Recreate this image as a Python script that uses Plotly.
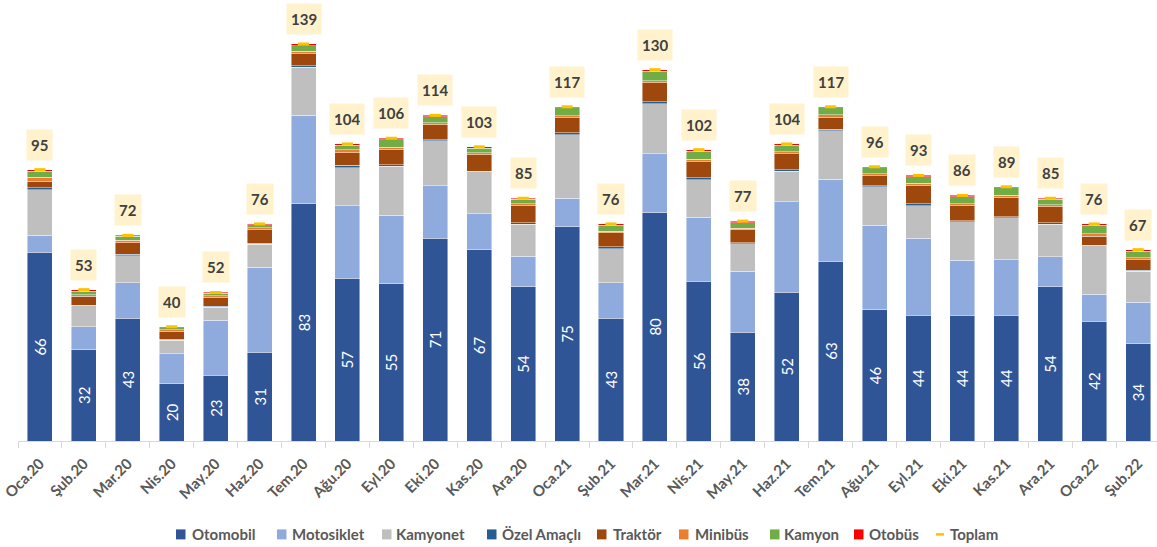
import plotly.graph_objects as go

months = ["Oca.20", "Şub.20", "Mar.20", "Nis.20", "May.20", "Haz.20", "Tem.20", "Ağu.20",
          "Eyl.20", "Eki.20", "Kas.20", "Ara.20", "Oca.21", "Şub.21", "Mar.21", "Nis.21",
          "May.21", "Haz.21", "Tem.21", "Ağu.21", "Eyl.21", "Eki.21", "Kas.21", "Ara.21",
          "Oca.22", "Şub.22"]

otomobil = [66, 32, 43, 20, 23, 31, 83, 57, 55, 71, 67, 54, 75, 43, 80, 56, 38, 52, 63, 46, 44, 44, 44, 54, 42, 34]
motosiklet = [6, 8, 12.4, 10.5, 19.2, 29.9, 31, 25.3, 24, 18.4, 12.5, 10.6, 10, 12.4, 20.5, 22.3, 21.5, 31.7, 28.7, 29.5, 27, 19.3, 19.5, 10.5, 9.3, 14.6]
kamyonet = [16, 7.3, 9.5, 4.8, 4.7, 8, 16.8, 13.4, 17.2, 15.8, 14.7, 11.3, 22.3, 11.9, 17.6, 13.2, 9.6, 10.8, 17, 13.6, 11.4, 13.4, 14.6, 11.4, 17.0, 10.9]
ozel_amacli = [0.7, 0.3, 0.4, 0.3, 0.3, 0.4, 0.5, 0.9, 0.5, 0.3, 0.3, 0.5, 0.7, 0.7, 0.7, 0.6, 0.3, 0.5, 0.5, 0.3, 0.7, 0.4, 0.4, 0.6, 0.3, 0.3]
traktor = [2.2, 3.0, 4.1, 2.8, 3.2, 4.6, 4.3, 4.4, 5.4, 5.3, 5.8, 6.1, 5.1, 5.0, 6.6, 5.6, 4.5, 5.6, 4.2, 3.5, 6.5, 5.4, 6.8, 5.6, 3.0, 3.7]
minibus = [1.4, 0.6, 0.9, 0.6, 0.5, 0.8, 0.9, 0.9, 0.7, 0.7, 0.7, 0.5, 0.7, 0.5, 0.7, 0.9, 0.6, 0.6, 0.9, 0.7, 0.7, 0.6, 0.7, 0.6, 1.0, 0.6]
kamyon = [2.1, 1.2, 1.4, 0.7, 0.8, 1.0, 1.8, 1.6, 2.7, 2.0, 1.5, 1.6, 2.8, 2.0, 3.3, 2.9, 2.0, 2.4, 2.3, 2.0, 2.3, 2.5, 2.6, 1.9, 2.9, 2.4]
otobus = [0.6, 0.5, 0.3, 0.3, 0.3, 0.3, 0.7, 0.5, 0.5, 0.5, 0.5, 0.4, 0.4, 0.5, 0.6, 0.5, 0.5, 0.4, 0.4, 0.4, 0.4, 0.4, 0.4, 0.4, 0.5, 0.5]
toplam = [95, 53, 72, 40, 52, 76, 139, 104, 106, 114, 103, 85, 117, 76, 130, 102, 77, 104, 117, 96, 93, 86, 89, 85, 76, 67]

series = [
    ("Otomobil", otomobil, "#2F5597"),
    ("Motosiklet", motosiklet, "#8FAADC"),
    ("Kamyonet", kamyonet, "#BFBFBF"),
    ("Özel Amaçlı", ozel_amacli, "#255E91"),
    ("Traktör", traktor, "#9E480E"),
    ("Minibüs", minibus, "#ED7D31"),
    ("Kamyon", kamyon, "#70AD47"),
    ("Otobüs", otobus, "#FF0000"),
]
TOPLAM_COLOR = "#FFC000"

# layout geometry (pixels)
W, H = 1157, 547
ML, MR, MT, MB = 18, 0, 0, 105.5
PW, PH = W - ML - MR, H - MT - MB

def px_x(p):
    return (p - ML) / PW

def px_y(p):
    return (H - MB - p) / PH

FONT = "Lato, sans-serif"

fig = go.Figure()
for name, vals, color in series:
    kw = {}
    if name == "Otomobil":
        kw = dict(
            text=[f"{v:.0f}" for v in vals],
            textposition="inside",
            insidetextanchor="middle",
            textangle=-90,
            constraintext="none",
            textfont=dict(color="white", size=15, family=FONT),
        )
    fig.add_trace(go.Bar(
        x=months, y=vals, name=name,
        marker=dict(color=color, line=dict(color="rgba(255,255,255,0.55)", width=0.8)),
        hoverinfo="skip", showlegend=False,
        **kw,
    ))

fig.add_trace(go.Scatter(
    x=months, y=toplam, name="Toplam", mode="markers",
    marker=dict(symbol="line-ew", size=8, color=TOPLAM_COLOR,
                line=dict(color=TOPLAM_COLOR, width=3)),
    hoverinfo="skip", showlegend=False,
))

# total labels
for m, t in zip(months, toplam):
    fig.add_annotation(
        x=m, y=t, text=f"<b>{t}</b>", showarrow=False,
        yanchor="middle", yshift=25, height=22,
        bgcolor="#FFF2CC", borderpad=4,
        font=dict(family=FONT, size=15, color="#404040"),
    )

# legend (drawn manually to match spacing)
legend_sq_x = [176, 277, 382, 487, 597, 679, 770, 854]
legend_tx_x = [190, 290, 394, 500, 611, 693, 782, 867]
LEG_Y = 535
for (name, _, color), sx, tx in zip(series, legend_sq_x, legend_tx_x):
    fig.add_shape(type="rect", xref="paper", yref="paper",
                  x0=px_x(sx), x1=px_x(sx + 9.5), y0=px_y(LEG_Y - 5), y1=px_y(LEG_Y + 5),
                  fillcolor=color, line=dict(width=0))
    fig.add_annotation(x=px_x(tx), y=px_y(LEG_Y), xref="paper", yref="paper",
                       text=name, showarrow=False, xanchor="left", yanchor="middle",
                       font=dict(family=FONT, size=15, color="#595959", weight="bold"))
fig.add_shape(type="line", xref="paper", yref="paper",
              x0=px_x(936), x1=px_x(944), y0=px_y(LEG_Y), y1=px_y(LEG_Y),
              line=dict(color=TOPLAM_COLOR, width=2.5))
fig.add_annotation(x=px_x(948), y=px_y(LEG_Y), xref="paper", yref="paper",
                   text="Toplam", showarrow=False, xanchor="left", yanchor="middle",
                   font=dict(family=FONT, size=15, color="#595959", weight="bold"))

fig.update_layout(
    width=W, height=H,
    barmode="stack", bargap=0.43,
    plot_bgcolor="white", paper_bgcolor="white",
    margin=dict(l=ML, r=MR, t=MT, b=MB),
    xaxis=dict(
        type="category", range=[-0.5, 25.43],
        showline=True, linecolor="#D9D9D9", linewidth=1,
        ticks="outside", tickson="boundaries", ticklen=6, tickcolor="#D9D9D9",
        tickangle=-45, showgrid=False, ticklabelstandoff=7,
        tickfont=dict(family=FONT, size=15, color="#595959", weight="bold"),
    ),
    yaxis=dict(range=[0, 154.4], visible=False, showgrid=False),
    showlegend=False,
)

fig.write_html("out.html", config={"displayModeBar": False},
               post_script="document.body.style.margin='0px';document.body.style.overflow='hidden';")
